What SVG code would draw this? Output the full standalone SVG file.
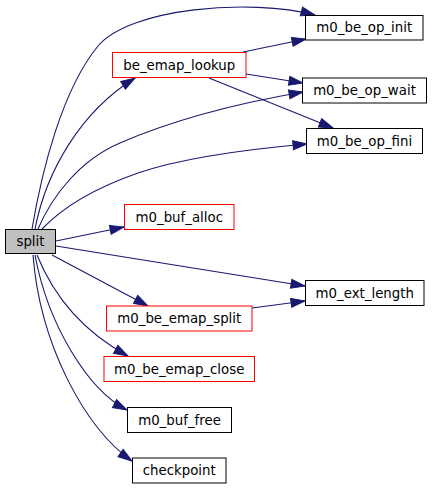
<svg xmlns="http://www.w3.org/2000/svg" width="432" height="489" viewBox="0 0 432 489">
<style>
.n rect{fill:#fff;stroke:#000;stroke-width:1}
.n.r rect{stroke:#f00}
.n.s rect{fill:#bfbfbf}
.n text{font-family:"DejaVu Sans",sans-serif;font-size:13.33px;text-anchor:middle;fill:#000}
.e path{fill:none;stroke:#191970;stroke-width:1.1;marker-end:url(#ah)}
</style>
<defs>
<marker id="ah" markerWidth="15" markerHeight="11" refX="14" refY="5" orient="auto" markerUnits="userSpaceOnUse" overflow="visible">
<path d="M0,0.5 L14,5 L0,9.5 z" fill="#191970" stroke="#191970" stroke-width="1"/>
</marker>
</defs>
<rect width="432" height="489" fill="#fff"/>
<g class="e" id="edges">
<path d="M32,229 C42,170 62,90 98,46 C130,8 250,-2 315,15"/>
<path d="M35,229 C46,172 80,112 135,78"/>
<path d="M38,229 C52,196 80,160 120,143 C175,119 245,102 303,92"/>
<path d="M42,229 C62,208 95,188 138,173 C185,157 250,149 307,144"/>
<path d="M56,241 L124,227"/>
<path d="M56,246 L305,286"/>
<path d="M52,255 L148,306"/>
<path d="M37,255 C52,292 80,330 128,356"/>
<path d="M35,255 C48,325 88,390 127,410"/>
<path d="M33,255 C40,345 85,428 132,461"/>
<path d="M243,52 L306,39"/>
<path d="M246,74 L303,83"/>
<path d="M209,78 L333,128"/>
<path d="M252,308 L305,301"/>
</g>
<g class="n s" id="split"><rect x="5.5" y="229.5" width="50" height="24"/><text x="30.5" y="246">split</text></g>
<g class="n r" id="be_emap_lookup"><rect x="112.5" y="52.5" width="133.5" height="25"/><text x="179.25" y="69.5">be_emap_lookup</text></g>
<g class="n" id="m0_be_op_init"><rect x="305.5" y="15.5" width="117.5" height="24.5"/><text x="364.25" y="32.25">m0_be_op_init</text></g>
<g class="n" id="m0_be_op_wait"><rect x="302.5" y="78" width="124" height="25"/><text x="364.5" y="95">m0_be_op_wait</text></g>
<g class="n" id="m0_be_op_fini"><rect x="306.5" y="128.5" width="116" height="25"/><text x="364.5" y="145.5">m0_be_op_fini</text></g>
<g class="n r" id="m0_buf_alloc"><rect x="124.5" y="204.5" width="109.5" height="25"/><text x="179.25" y="221.5">m0_buf_alloc</text></g>
<g class="n" id="m0_ext_length"><rect x="305.5" y="280.5" width="118.5" height="25"/><text x="364.75" y="297.5">m0_ext_length</text></g>
<g class="n r" id="m0_be_emap_split"><rect x="106.5" y="306" width="145.5" height="25"/><text x="179.25" y="323">m0_be_emap_split</text></g>
<g class="n r" id="m0_be_emap_close"><rect x="104" y="356.5" width="150.5" height="25"/><text x="179.25" y="373.5">m0_be_emap_close</text></g>
<g class="n" id="m0_buf_free"><rect x="127.5" y="407.5" width="104" height="25"/><text x="179.5" y="424.5">m0_buf_free</text></g>
<g class="n" id="checkpoint"><rect x="132.5" y="458" width="93.5" height="25"/><text x="179.25" y="475">checkpoint</text></g>
</svg>
